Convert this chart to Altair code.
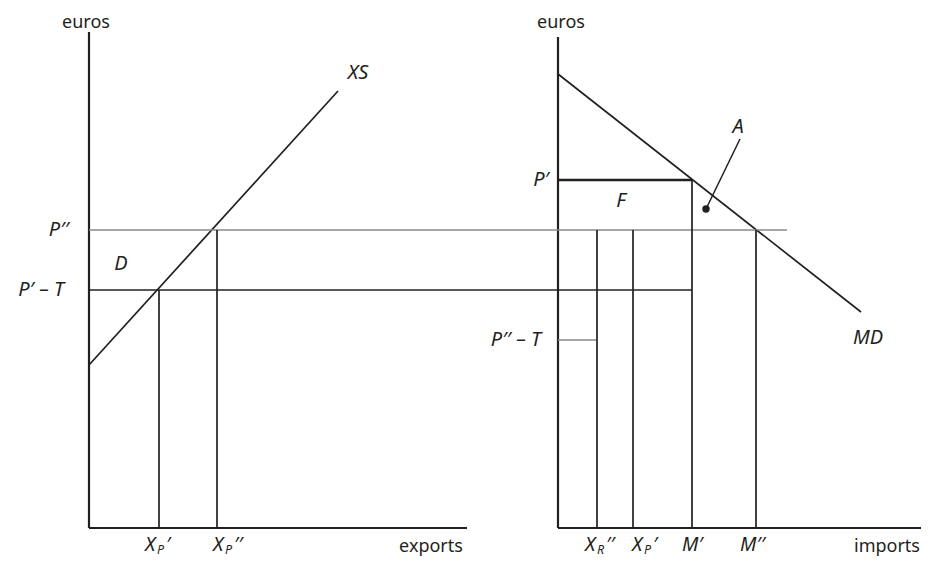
import altair as alt
import pandas as pd

# ---------------- values (price units / quantity units) ----------
P_one = 69.6          # P'
P_two = 59.6          # P''
T = 22.0              # tariff
XS_q = [0.0, 49.8]    # export supply curve (quantity)
XS_p = [32.6, 87.4]   # export supply curve (price)
MD_m = [0.0, 60.6]    # import demand curve (quantity)
MD_p = [90.8, 43.2]   # import demand curve (price)
left_ticks = ["XP1", "XP2"]
left_vals = [14.0, 25.6]
right_ticks = ["XR2", "XP1", "M1", "M2"]
right_vals = [7.8, 15.0, 26.8, 39.6]
left_axis_len = [75.6, 99.2]     # x length, y length
right_axis_len = [72.6, 98.2]
P2_line_end = 45.8               # grey P'' line end on right panel
A_from = [36.4, 77.8]            # leader for A (m, p)
A_to = [29.6, 63.8]

# layout helpers (scale: 5 px per unit)
PX = 5.0
R = 93.8                 # origin of the right panel in x units
XDOM = [-16.2, 166.6]
YDOM = [-6.0, 104.0]
INK = "#231f20"
GREY = "#8a8a8a"

def rv(i):
    return R + right_vals[i]

segs = [
    # axes
    (0, 0, 0, left_axis_len[1], INK, 2.2),
    (0, 0, left_axis_len[0], 0, INK, 2.2),
    (R, 0, R, right_axis_len[1], INK, 2.2),
    (R, 0, R + right_axis_len[0], 0, INK, 2.2),
    # curves
    (XS_q[0], XS_p[0], XS_q[1], XS_p[1], INK, 1.7),
    (R + MD_m[0], MD_p[0], R + MD_m[1], MD_p[1], INK, 1.7),
    # price lines
    (0, P_two, R + P2_line_end, P_two, GREY, 1.6),
    (0, P_one - T, rv(2), P_one - T, INK, 1.6),
    (R, P_one, rv(2), P_one, INK, 2.4),
    (R, P_two - T, rv(0), P_two - T, GREY, 1.6),
    # verticals, left
    (left_vals[0], 0, left_vals[0], P_one - T, INK, 1.7),
    (left_vals[1], 0, left_vals[1], P_two, INK, 1.7),
    # verticals, right
    (rv(0), 0, rv(0), P_two, INK, 1.7),
    (rv(1), 0, rv(1), P_two, INK, 1.7),
    (rv(2), 0, rv(2), P_one, INK, 1.7),
    (rv(3), 0, rv(3), P_two, INK, 1.7),
    # leader for A
    (R + A_from[0], A_from[1], R + A_to[0], A_to[1], INK, 1.5),
]
seg_df = pd.DataFrame(segs, columns=["x", "y", "x2", "y2", "c", "w"])

xs = alt.Scale(domain=XDOM, nice=False, zero=False)
ys = alt.Scale(domain=YDOM, nice=False, zero=False)

rules = alt.Chart(seg_df).mark_rule(strokeCap="butt").encode(
    x=alt.X("x:Q", scale=xs, axis=None),
    y=alt.Y("y:Q", scale=ys, axis=None),
    x2="x2:Q", y2="y2:Q",
    color=alt.Color("c:N", scale=None),
    strokeWidth=alt.StrokeWidth("w:Q", scale=None),
)

dot = alt.Chart(pd.DataFrame({"x": [R + A_to[0]], "y": [A_to[1]]})).mark_point(
    filled=True, size=55, color=INK, opacity=1
).encode(x=alt.X("x:Q", scale=xs, axis=None), y=alt.Y("y:Q", scale=ys, axis=None))

def px_to_u(x):
    return (x - 89) / PX

def py_to_p(y):
    return (528 - y) / PX

FONT = "Noto Sans"

def text_layer(rows, size, italic, align, baseline="middle"):
    df = pd.DataFrame(rows, columns=["x", "y", "t"])
    kw = dict(font=FONT, fontSize=size, color=INK, align=align, baseline=baseline)
    if italic:
        kw["fontStyle"] = "italic"
    return alt.Chart(df).mark_text(**kw).encode(
        x=alt.X("x:Q", scale=xs, axis=None),
        y=alt.Y("y:Q", scale=ys, axis=None),
        text="t:N",
    )

words_top = text_layer([
    (px_to_u(86), py_to_p(27.5), "euros"),
    (px_to_u(561), py_to_p(27.5), "euros"),
], 18, False, "center", "alphabetic")
words_bot = text_layer([
    (px_to_u(431), py_to_p(552), "exports"),
    (px_to_u(887), py_to_p(552), "imports"),
], 18, False, "center", "alphabetic")

ital_c = text_layer([
    (px_to_u(358), py_to_p(73), "XS"),
    (px_to_u(868), py_to_p(338), "MD"),
    (px_to_u(738), py_to_p(127), "A"),
    (px_to_u(621), py_to_p(201), "F"),
    (px_to_u(121), py_to_p(264), "D"),
], 20, True, "center")

ital_r = text_layer([
    (px_to_u(69), P_two, "P′′"),
    (px_to_u(64), P_one - T, "P′ – T"),
    (px_to_u(549), P_one, "P′"),
    (px_to_u(541), P_two - T, "P′′ – T"),
], 20, True, "right")

tick_y = py_to_p(550.5)
sub_y = py_to_p(553.5)
x_lefts = [left_vals[0] - 14 / PX, left_vals[1] - 4 / PX,
           rv(0) - 12 / PX, rv(1) - 1 / PX]
subs = ["P", "P", "R", "P"]
primes = ["′", "′′", "′′", "′"]

ital_l = text_layer(
    [(xl, tick_y, "X") for xl in x_lefts]
    + [(rv(2) - 10 / PX, tick_y, "M′"), (rv(3) - 16 / PX, tick_y, "M′′")],
    19.5, True, "left", "alphabetic")
sub_l = text_layer([(xl + 12 / PX, sub_y, s) for xl, s in zip(x_lefts, subs)],
                   12.5, True, "left", "alphabetic")
prime_l = text_layer([(xl + 21 / PX, tick_y, p) for xl, p in zip(x_lefts, primes)],
                     19.5, True, "left", "alphabetic")

chart = alt.layer(rules, dot, words_top, words_bot, ital_c, ital_r, ital_l, sub_l,
                  prime_l).properties(
    width=914, height=550,
    autosize=alt.AutoSizeParams(type="none"),
    padding=0,
).configure_view(stroke="transparent", strokeWidth=0)

chart.save("out.html", embed_options={"renderer": "svg", "actions": False})
